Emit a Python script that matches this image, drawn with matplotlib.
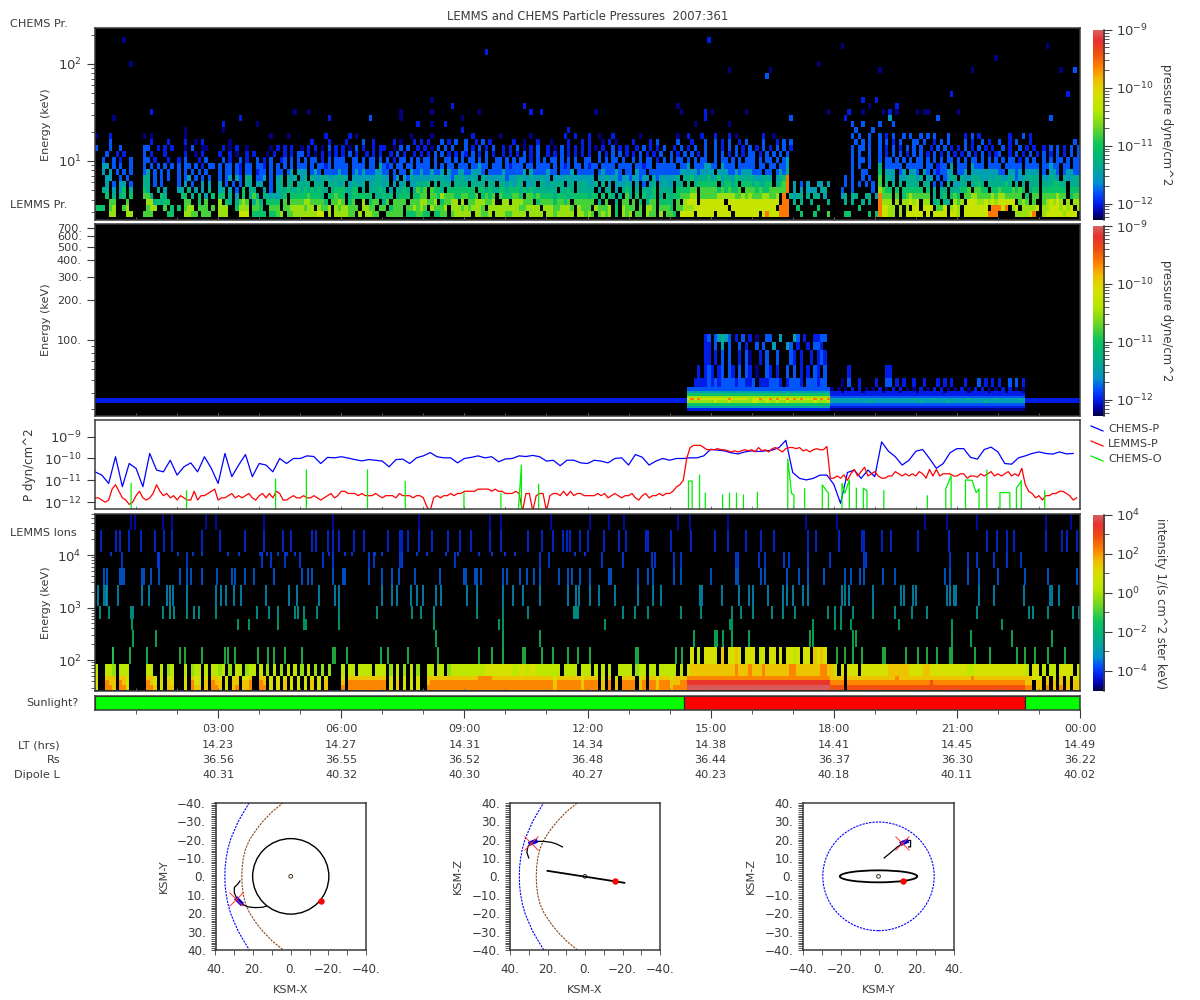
import numpy as np
import matplotlib
matplotlib.use("Agg")
import matplotlib.pyplot as plt
from matplotlib.colors import LinearSegmentedColormap, LogNorm
from matplotlib.lines import Line2D
from matplotlib.patches import Circle, Ellipse

W, H = 1200, 1000
INK = "#3a3a3a"

# colour scale (bottom to top)
cbar_stops = [0, .035, .088, .14, .193, .263, .333, .404, .49, .579, .667, .737, .807, .877, .947, 1]
cbar_colors = ["#000040", "#0000a0", "#0020f0", "#0050ff", "#0090d0", "#00a8a0", "#00b878", "#10c858",
               "#70d820", "#b8e800", "#d8e000", "#f0c000", "#ff8000", "#f05010", "#e83030", "#d86060"]

# log10 pressure for the level characters of the two pressure panels
pressure_levels = {"1": -12.2, "2": -12.0, "3": -11.8, "4": -11.5, "5": -11.3, "6": -11.05,
                   "7": -10.8, "8": -10.5, "9": -10.25, "a": -9.6}
# log10 intensity for the level characters of the ion panel
ion_levels = {"1": -2.0, "2": -1.0, "3": -0.2, "4": 0.3, "5": 0.9, "6": 1.5,
              "7": 2.2, "8": 2.9, "9": 3.4, "a": 3.9}

# CHEMS pressure rows, lowest energy first, one block per hour, one char per 5 min
chems_rows = [
    "....88...88. ..777....66. ..8877.777.. 888...999.66 66.6678.7788 8888899.8.88 8877.8.8877. .77777.66677 66.6677.7888 88.88778.888 778888.8888. 88788888.887 87.7878.6.87 8.77.877.8.7 76.9999.9999 9.9999.99999 99.9a999aaa. ..6...6...7. ...66.....6. 6a9988.8.999 99.9.9999.99 8.9999999aaa .....88889a. .8999998999.",
    "666.78..78.. ...788..7.6. 6.788.777.7. 888..6888.77 6..777.77888 8788.8778.87 88777.8877.7 7.6777.77878 7.87778.8887 878887.88888 8888778888.8 88778887.877 7.87778.6.87 77.7.887.777 6.7788899999 99999.999999 9999999.aaa. .6.....6.... .......6.... .a9988.8.8.9 9.999.779.89 8.9999999.aa a9a.89.88889 .889998989.8",
    "....77...7.. ...8856566.. ..77..6.7... 8.65.5787.57 5.6666.7.777 78877776.778 7.67..8.677. 57.7777.7778 8778.67788.8 .77888778..8 8.888777.677 7767767.7777 77.5.7..5.77 .7.6.577.666 6.7.8999.999 9999.9999999 99999999.aa. 5.5..5....5. ...5.5..5.5. .a888.8.8898 9.88.56.55.8 78.999889898 99999.787.7. .789898.8.88",
    "...6.5.56.6. ..775..65... .66.5.6.4.6. 66.5.4.6.575 .5545456.666 6676665.6676 6.5666666.55 656.5666.667 7.7768777667 7667.6767.76 66776.776766 665666566666 566.6.65.5.7 5.6.6556.5.6 56677788.777 778888877878 77788778.a.5 455.5.55.4.. ..45.55..55. 4a777.7.6787 7777.5.56.67 6.7788777787 8877777.6.77 .7777877.677",
    "..55.4.46.5. ..65..5.4... 45.5.4.4.5.. 45.4.3.6.55. .4.3.5556556 56565655.566 65566.5.5556 5.4.5565.576 7.7665.66666 666.66565566 566656565555 555.5565.555 55.4.55.4.56 5.5.5556.555 5.666677.777 776767667.77 7676677777a. 4.4.444.45.. ..3..3.....3 .8766.6.6666 66.6.5.55.55 5667.7766.66 76667676.566 .6666666.666",
    "...4.3.44.3. ..55.3.3.... 3.4.3..4.4.. 4.3.3.3.54.4 4..3.55.55.5 555.555.5554 5.45545.4555 45.4.45.4455 56.5.555.555 5.5555.55.55 45455.445.55 45555.45.555 445.5.4.4445 4.4.3.45.454 4.55.6.56666 66.56656.666 565566.567a. 4.3.4..44.4. ...3.3.3.3.3 .7.6.5.5.555 5.55.3.3.5.4 455.5565.555 5565.5.5.555 .5556655.555",
    "...44..3.3.. ..55.3.3.3.. 3.34.3.3.3.. 3.34.43.55.3 34.3.45.545. 45.544554455 54.444444455 44.34.435444 444545443555 4454.5444445 344554454454 4.4444544444 44.445444344 344344.43444 445.55645556 456455465555 544554.456a. ............ ...3.3..3.3. .7.554.44555 45.44.3.3455 .54455544545 544553445555 .44554.54455",
    "..4.4.3.3.3. ..34.3.3.3.. 3.3.3.3.3... 3.33.32.33.2 33.3.33.34.4 44.343.33334 33.343433344 33.3.33.4334 334334.43344 334443.33334 333334.43333 433.3334.333 33.3433343.3 3.433.333333 333444443444 4.4443343444 333.33.3435. ............ .....3..33.. .6.444.34.44 3.43.323344. 334.44444444 33.4434.4444 .3.443.34433",
    "..44.3.3..3. ..3.3.3.3.3. 3.33.3.2.33. 3.33.32.33.3 32.3.3.3.3.3 33.3.3323.33 33.3333.33.4 323.33.33.33 33.3.3.33.33 3.33433.333. 32333.33.333 3.3.323.33.3 233.3333.333 3.33233.3333 33.334.33344 33.4333.3333 3.33.33.334. ............ .....3.3..3. .5.33333.333 33.33.233.4. 333.4333.333 3.33333.3333 .33433.33.33",
    "..3..3.2..3. ..33.2...2.. 2.3...2.3... .3.2..3.2..3 .2.3..23.3.3 .3.33.2.3.33 3..33.3.33.3 .3.2.33.3.3. 33.3..33.3.3 .33.3.3..33. 3.3.33.2.3.3 .33.3.3.3..3 3..3.3.33.3. .3.3.33.2.3. 3.33.3.3.33. .3.33.3.3.33 3.3.33.3.34. ............ .....3.33.3. .3.33.3.3.3. 33.3.3.3.33. 3.3.33.3.3.3 .3.33.2.3.3. .3.3.33.3.33",
    "...3..2.2... ..3.2...2... ..2..1.2.... 2..2.1..2.2. ..1.2..2.2.3 3.2.1.2.2.2. 2.3.2..2.2.2 ..2.3.2..2.2 .2.3.3.2.2.3 2.3.2.3.2..2 .2.2.3.2.3.. 2.2.3.2.2.2. 2..3.2.3.3.2 .2.3.2.2.3.. 3.2.3.3.2.3. .3.3.2.3.2.3 3.2.3.3.3.3. ............ .....3.3..3. .3.2.3.3.2.3 .3.2.3.2.3.2 .2.3.2.3.2.2 3..2.3.2.3.2 .3.2.3.2.3.3",
    "3...3..3.... ..33..2.2.2. ..1.3..11... .2.1.2..1... ...1.2.2.2.. 1.2.2.1.3.2. 2.1.3.2..2.2 2..1.3.3..2. 2.1.3.3.3... 3.2.3.2.3..2 .2.3.1.2.3.. 2.1.3.2.2.2. 2.1.2..3.2.2 ..2.3.2.2.3. .2.3.2.3..3. .3.2.3.3.2.3 .2.3.2.3.3.2 ............ .....3.33.3. .3.2.3.2.3.3 .3..2.3.3.2. 2.3.2.3.2.2. .3.2..3.2.2. .2.3.3.2.3.3",
    "....3....... ....2....2.. ..2..1.2.... ...1........ ............ ...2....2... .2....3..2.. ...2.1...2.2 .2...3.2.3.. 3..2.3.2.... ..2..1...2.. .1....2...2. 2...1.2.1... .2....2.3... ..3...2...3. .3.2.3..2.3. ...3...2.3.3 ............ ......3.3.3. .3.3.2.3...3 3.3..2.3.3.. ..3.2..3.2.. 3..2.3...2.. ..........3.",
    "1...2....... ..1.1....... ..1......... ............ ...1....1... .......2.... ..2.1....... ........1... ..1......... ..2.......1. .......1.... .....2..2... 2..1...2.... ...1........ ..1..2...2.. .2...2.1.... ...2..1..... ............ .....3.3..3. .3.2.3..3.3. .3.3.3...3.. ..2.3.2..... ...2...3.2.. ............",
]

# isolated CHEMS cells above the rows
sparse_col = [8, 10, 16, 5, 58, 62, 68, 80, 89, 89, 98, 98, 104, 107, 112, 114, 125, 127, 130, 146, 42, 37, 47, 94, 102, 98,
              26, 37, 138, 107, 179, 218, 278, 263, 211, 185, 197, 229, 256, 282, 286, 196, 250, 284, 170, 224, 228, 226,
              234, 171, 178, 180, 190, 214, 220, 224, 230, 232, 234, 240, 242, 243, 252, 279, 246, 203, 219, 178, 175, 185,
              221, 232, 222, 224, 227, 229, 233]
sparse_row = [29, 25, 17, 16, 17, 17, 16, 16, 16, 17, 19, 17, 18, 16, 17, 27, 18, 17, 17, 17, 16, 15, 15, 15, 15, 15,
              14, 14, 14, 14, 29, 28, 28, 26, 25, 24, 24, 24, 24, 24, 24, 23, 20, 20, 18, 19, 19, 18,
              18, 17, 17, 17, 17, 17, 17, 17, 17, 17, 17, 17, 17, 17, 17, 16, 16, 16, 16, 16, 15, 15,
              15, 16, 14, 15, 14, 15, 15]
sparse_level = [1, 1, 2, 1, 1, 1, 2, 3, 1, 1, 1, 1, 2, 1, 1, 2, 2, 2, 2, 1, 2, 2, 1, 2, 2, 1,
                1, 1, 2, 2, 2, 1, 1, 1, 1, 1, 1, 1, 1, 1, 3, 3, 2, 2, 1, 2, 2, 1,
                2, 1, 2, 1, 1, 1, 2, 1, 1, 2, 1, 1, 1, 1, 1, 3, 3, 3, 2, 2, 1, 1,
                3, 4, 3, 3, 3, 3, 3]

# LEMMS pressure rows (energy edges in lemms_edges), 173 quiet columns, 42 bright, 57 medium, 16 quiet
lemms_bright = [
    "222222222222222222222222222222222222222222", "444444444444444444444444444444444444444444",
    "666666666666666666666666666666666666666666", "888888889888988888899889889889888888898889",
    "9a9a99999999a99999899a99a9a99a9a9a999a9a9a", "888888888888888888888888888888888888888888",
    "666666666666666666666666666666666666666666", "444444444444444444444444444444444444444444",
    "333333333333333333333333333333333333333333", "..222232323333233223.2223332.23332.333233.",
    "...2.232.23.32.3.32.1..32.2..3.3.2.2.32.3.", ".....22.2.3.3..2.31..2.3..3...32.2..2.232.",
    ".....22.3.4.3..3.2..3.3..4...43.2..2.332..", ".....23.34543.2.3.2.1..33..4...43.2..2233.",
]
lemms_medium = [
    "111111111111111111111111111111111111111111111111111111111", "222222222222222222222222222222222222222222222222222222222",
    "333333333333333333333333333333333333333333333333333333333", "444444444445444444444444445444444454444444444544444444444",
    "444444454444444444444444544444544444444454444444544444454", "333333333333333333333333333333333333333333333333333333333",
    "222222222222222222222222222222222222222222222222222222222", "222122222122222122221222212222222122222212222212222122221",
    "1.1.1.2.2.1.1.2.1.2.2.1.1.2.1.2.2.1.1.2.1.2.2.1.1.2.2.1.1", "...1.3..2....2..33.2.2..2..2...2.2.2...2...3.2.2.2..3.3.2",
    ".....2..........22.........................................", ".........................................................",
    ".........................................................", ".........................................................",
]
lemms_quiet_level = [".", ".", ".", "2", "2", ".", ".", ".", ".", ".", ".", ".", ".", "."]
lemms_edges = [29.3, 30.8, 32.1, 33.6, 35.1, 36.6, 38.2, 39.9, 41.4, 44.3, 51.8, 64.9, 84.1, 96.6, 111.0]

# line panel: log10 pressure, CHEMS every 10 min, LEMMS every 5 min
chems_p_log = [-10.61, -10.76, -11.14, -9.92, -11.29, -10.23, -10.45, -11.29, -9.77, -10.53, -10.61, -10.08,
               -10.76, -10.38, -10.2, -10.61, -9.92, -10.45, -11.14, -9.77, -10.83, -10.3, -9.82, -10.83,
               -10.23, -10.3, -10.61, -10.0, -10.23, -10.0, -10.0, -9.88, -9.91, -10.23, -9.95, -9.97,
               -9.92, -9.98, -10.05, -10.11, -10.05, -10.08, -10.12, -10.38, -10.05, -10.03, -10.23, -9.97,
               -9.88, -9.73, -9.92, -9.97, -9.97, -10.2, -10.0, -9.95, -9.88, -9.97, -9.92, -10.15,
               -10.02, -10.0, -9.88, -9.91, -9.86, -9.92, -10.12, -10.08, -10.33, -10.08, -10.08, -10.2,
               -10.23, -10.08, -10.12, -10.2, -10.0, -9.97, -10.3, -9.82, -9.94, -10.3, -10.12, -10.0,
               -10.08, -10.0, -10.0, -9.97, -9.97, -9.88, -9.58, -9.62, -9.65, -9.74, -9.79, -9.7,
               -9.65, -9.68, -9.65, -9.62, -9.5, -9.17, -10.64, -10.91, -10.98, -10.91, -10.76, -10.76,
               -11.18, -12.05, -10.64, -10.53, -10.91, -10.53, -10.83, -9.24, -9.67, -9.92, -10.3, -10.08,
               -9.67, -9.59, -10.0, -10.45, -10.23, -9.74, -9.55, -9.55, -9.95, -10.03, -9.59, -9.48,
               -9.7, -10.23, -10.26, -9.97, -9.88, -9.77, -9.7, -9.77, -9.8, -9.7, -9.79, -9.77]
lemms_p_log = [-11.8, -11.8, -11.9, -12.0, -11.9, -11.4, -11.2, -11.5, -11.8, -11.9, -12.1, -12.0,
               -11.7, -11.5, -11.8, -11.9, -11.8, -11.6, -11.2, -11.5, -11.7, -11.6, -11.8, -11.7,
               -11.9, -11.7, -11.8, -11.9, -11.9, -11.5, -11.9, -11.7, -11.7, -11.6, -11.5, -11.4,
               -11.9, -11.8, -11.8, -11.7, -11.6, -11.8, -11.7, -11.8, -11.7, -11.6, -11.8, -11.9,
               -11.7, -11.6, -11.8, -11.6, -11.8, -11.5, -11.6, -11.9, -11.9, -11.8, -11.7, -11.8,
               -11.8, -11.7, -11.8, -11.8, -11.7, -11.8, -11.9, -11.8, -11.7, -11.6, -11.8, -11.7,
               -11.5, -11.5, -11.6, -11.6, -11.6, -11.7, -11.6, -11.7, -11.7, -11.7, -11.6, -11.7,
               -11.8, -11.7, -11.7, -11.7, -11.8, -11.6, -11.7, -11.7, -11.7, -11.8, -11.7, -11.7,
               -11.8, -12.2, -12.4, -11.8, -11.7, -11.8, -11.7, -11.7, -11.6, -11.7, -11.6, -11.6,
               -11.5, -11.5, -11.5, -11.5, -11.4, -11.4, -11.4, -11.4, -11.5, -11.4, -11.5, -11.5,
               -11.6, -11.6, -11.6, -11.5, -11.6, -12.4, -11.6, -11.6, -12.4, -11.7, -11.6, -11.6,
               -12.4, -11.7, -11.6, -11.6, -11.7, -11.5, -11.7, -11.5, -11.7, -11.6, -11.6, -11.7,
               -11.7, -11.7, -11.7, -11.6, -11.7, -11.6, -11.8, -11.7, -11.6, -11.7, -11.8, -11.7,
               -11.7, -11.6, -11.8, -11.9, -11.7, -11.6, -11.8, -11.7, -11.7, -11.6, -11.7, -11.6,
               -11.6, -11.5, -11.3, -11.2, -11.0, -10.0, -9.5, -9.4, -9.4, -9.4, -9.5, -9.6,
               -9.6, -9.6, -9.55, -9.6, -9.6, -9.65, -9.7, -9.65, -9.7, -9.65, -9.6, -9.65,
               -9.6, -9.7, -9.5, -9.65, -9.6, -9.7, -9.55, -9.5, -9.6, -9.7, -9.55, -9.5,
               -9.5, -9.55, -9.5, -9.65, -9.6, -9.7, -9.6, -9.55, -9.6, -9.6, -9.45, -10.9,
               -10.9, -10.8, -10.9, -10.75, -11.0, -10.7, -10.5, -10.8, -10.6, -10.4, -10.8, -10.7,
               -10.6, -10.8, -10.9, -10.9, -10.8, -10.8, -10.6, -10.7, -10.8, -10.7, -10.8, -10.7,
               -10.8, -10.6, -10.7, -10.9, -10.5, -10.8, -10.5, -10.8, -10.7, -10.7, -10.7, -10.8,
               -10.8, -10.7, -10.7, -10.9, -10.8, -10.8, -10.85, -10.7, -10.8, -10.7, -10.6, -10.8,
               -10.7, -10.8, -10.7, -10.6, -10.8, -10.7, -10.8, -10.45, -11.2, -11.5, -11.6, -11.8,
               -11.7, -11.9, -11.7, -11.7, -11.6, -11.6, -11.5, -11.5, -11.6, -11.7, -11.9, -11.8]
# CHEMS-O spikes: nan breaks the line, -12.5 is below the panel floor
chems_o_hours = [0.88, 0.88, np.nan, 2.23, 2.23, np.nan, 4.40, 4.40, np.nan, 5.15, 5.15, np.nan, 6.64, 6.64, np.nan,
                 7.56, 7.56, np.nan, 8.99, 8.99, np.nan, 9.89, 9.89, np.nan, 10.31, 10.39, 10.39, np.nan, 10.81, 10.81, np.nan,
                 14.46, 14.46, 14.55, 14.55, np.nan, 14.73, 14.73, np.nan, 14.87, 14.87, np.nan, 15.29, 15.29, np.nan,
                 15.46, 15.46, np.nan, 15.63, 15.63, np.nan, 15.80, 15.80, np.nan, 16.14, 16.14, np.nan,
                 16.88, 16.88, 16.97, 17.03, 17.03, np.nan, 17.29, 17.29, np.nan, 17.72, 17.72, 17.87, 17.87, np.nan,
                 18.2, 18.2, 18.27, 18.38, 18.38, np.nan, 18.55, 18.55, np.nan, 18.72, 18.72, 18.81, 18.81, np.nan,
                 19.22, 19.22, np.nan, 20.28, 20.28, np.nan, 20.73, 20.73, 20.86, 20.86, np.nan,
                 21.21, 21.21, 21.37, 21.47, 21.54, 21.54, np.nan, 21.73, 21.73, np.nan, 22.05, 22.05, 22.29, 22.29, np.nan,
                 22.45, 22.45, 22.57, 22.57, np.nan, 23.14, 23.14]
chems_o_log = [-12.5, -11.14, np.nan, -12.5, -11.48, np.nan, -12.5, -10.94, np.nan, -12.5, -10.53, np.nan, -12.5, -10.53, np.nan,
               -12.5, -11.06, np.nan, -12.5, -11.55, np.nan, -12.5, -11.59, np.nan, -12.5, -10.3, -12.5, np.nan, -12.5, -11.18, np.nan,
               -12.5, -11.03, -11.03, -12.5, np.nan, -12.5, -10.76, np.nan, -12.5, -11.59, np.nan, -12.5, -11.67, np.nan,
               -12.5, -11.59, np.nan, -12.5, -11.59, np.nan, -12.5, -11.67, np.nan, -12.5, -11.55, np.nan,
               -12.5, -10.03, -11.59, -11.67, -12.5, np.nan, -12.5, -11.39, np.nan, -12.5, -11.21, -11.59, -12.5, np.nan,
               -12.5, -11.14, -11.59, -10.98, -12.5, np.nan, -12.5, -11.36, np.nan, -12.5, -11.36, -11.48, -12.5, np.nan,
               -12.5, -11.48, np.nan, -12.5, -11.71, np.nan, -12.5, -11.39, -10.79, -12.5, np.nan,
               -12.5, -10.98, -11.0, -11.56, -11.39, -12.5, np.nan, -12.5, -10.53, np.nan, -12.5, -11.56, -11.56, -12.5, np.nan,
               -12.5, -11.36, -11.02, -12.5, np.nan, -12.5, -11.48]

# LEMMS ions: dense low-energy rows, one block per hour
ion_rows = [
    "5..776.775.. ...776.5.66. ..5.766.6.77 6.5.67.667.. 77.5.5.6.5.5 .5.6.5.6.... 7.7777777777 7.5.6.5.5.5. .77777777777 777777777777 777777777777 776777777767 777.6.7.6.77 77.67.776777 67777aaaaaaa aaaaaaaaaaaa aaaaaaaaaaaa aaaaaaaaaaa8 888.88888888 888888888888 888888888888 888888888888 8888888877.6 6.7.6.7.6.66",
    "5..766.765.. ...765.5.65. ..5.755.6.76 6.5.66.667.. 76.5.5.6.5.5 .5.6.5.6.... 6.7777777777 7.5.6.5.5.5. .67777777777 777777777777 777777777777 776777777767 777.6.7.6.77 77.67.776777 666779999999 999999999999 999999999999 999999999997 777.77777777 777777777777 777787777777 777777777777 7777777766.6 6.6.6.6.6.66",
    "5..666.665.. ...665.5.55. ..5.655.5.66 5.5.56.556.. 66.5.5.5.5.5 .5.5.5.5.... 5.6666666666 6.5.5.5.5.5. .66666666666 666677776666 666666666666 665666666656 666.5.6.5.66 66.56.665666 566667777777 777777777777 777777777777 777777777776 666.66666666 666666766666 666666666666 666676666666 666666666655 5.6.5.6.5.55",
    "4..443.444.. ...44..4.34. ..4.344.4.44 34.3.44.344. 4.3.4.3.4.4. 3.4.3.3.3... 4.44.4444.44 4.3.4.3.4.3. .44.44.34444 444444555555 554455455444 4444.4444.44 4.4.4.4..444 4.344.44.444 44.4.5666666 666666676667 666766666667 766666667766 4.5.555.5555 555566666655 556655555555 555445555555 555555554.55 .4.44.5555.5",
    "............ ............ ............ ............ ............ ............ ............ ............ ............ ............ ............ ............ ............ ............ ......5.4.55 55.6.5565.55 5.45.55.5.55 45.55.6565.. ............ ............ ............ ............ ............ ............",
]
ion_row_edges = [26.8, 33.4, 41.6, 49.6, 83.9, 177.0]

# LEMMS ions: upper channels, minutes of day of each lit column
ion_c_minutes = [26, 27, 51, 76, 124, 131, 157, 190, 195, 204, 239, 253, 261, 278, 303, 348, 351, 368, 418, 429, 457, 502, 561, 580, 597, 625, 628, 653, 670, 692, 706, 723,
                 791, 794, 849, 858, 1085, 1096, 1108, 1122, 1152, 1155, 1186, 1203, 1217, 1231, 1250, 1253, 1287, 1309, 1348, 1360, 1374, 1393, 1418]
ion_d_minutes = [55, 89, 499, 597, 650, 875, 906, 909, 918, 931, 956, 1045, 1049, 1108, 1112, 1253, 1281, 1340, 1399]
ion_e_minutes = [54, 209, 225, 267, 306, 308, 356, 496, 591, 597, 746, 928, 931, 1049, 1082, 1091, 1105, 1175, 1253, 1326]
ion_f_minutes = [7, 21, 53, 55, 100, 110, 115, 135, 145, 152, 177, 237, 255, 267, 293, 297, 306, 325, 356, 412, 464, 477, 496, 558, 597, 633, 700, 703, 706,
                 772, 790, 808, 857, 886, 931, 945, 962, 990, 1006, 1024, 1072, 1082, 1091, 1108, 1138, 1169, 1194, 1217, 1290, 1365, 1371, 1393, 1430, 1439]
ion_g_minutes = [5, 13, 16, 18, 34, 69, 79, 105, 110, 114, 135, 177, 184, 192, 203, 214, 250, 283, 295, 328, 351, 356, 419, 434, 441, 462, 471, 479, 499, 506, 544, 558, 597, 611, 625, 650, 692, 703, 707, 723, 737,
                 760, 794, 816, 828, 885, 888, 916, 942, 956, 962, 984, 1006, 1011, 1021, 1035, 1043, 1092, 1096, 1102, 1137, 1178, 1183, 1196, 1200, 1245, 1250, 1256, 1259, 1292, 1315, 1358, 1396, 1399, 1409]
ion_h_minutes = [13, 17, 37, 40, 43, 68, 71, 82, 93, 124, 135, 141, 157, 179, 201, 205, 219, 233, 261, 303, 311, 317, 348, 362, 365, 401, 420, 434, 445, 468, 505, 539, 542, 555, 558, 565, 597, 603, 622, 631, 642, 650, 678, 692, 698, 709, 723,
                 752, 755, 794, 808, 816, 847, 856, 900, 937, 940, 973, 979, 1012, 1029, 1043, 1066, 1096, 1105, 1119, 1124, 1152, 1169, 1242, 1250, 1276, 1292, 1320, 1360, 1393, 1435]
ion_i_minutes = [40, 92, 94, 135, 244, 258, 278, 300, 334, 348, 401, 408, 446, 449, 527, 664, 650,
                 741, 772, 814, 819, 847, 856, 937, 940, 970, 979, 1007, 1015, 1043, 1074, 1124, 1127, 1250, 1276, 1290, 1315, 1334, 1354]
ion_i2_minutes = [23, 121, 143, 157, 195, 211, 241, 252, 267, 281, 292, 342, 365, 376, 409, 420, 471, 485, 513, 530, 561, 580, 600, 614, 701, 717]
ion_j_minutes = [9, 31, 37, 50, 67, 87, 101, 113, 157, 183, 219, 247, 275, 286, 317, 323, 340, 348, 357, 379, 393, 429, 446, 449, 457, 474, 493, 516, 533, 549, 577, 594, 633, 653, 670, 684, 690, 695, 709, 720,
                 744, 766, 777, 805, 808, 842, 872, 906, 926, 951, 973, 993, 1043, 1054, 1088, 1122, 1124, 1150, 1164, 1203, 1248, 1304, 1318, 1334, 1343, 1390, 1413, 1421, 1435]
ion_k_minutes = [53, 59, 99, 113, 162, 177, 247, 348, 474, 578, 594, 667, 723, 752, 774, 853, 870, 926, 1040, 1085, 1214, 1245, 1290, 1390, 1427]
ion_channels = [(83.9, 177, -1.2, ion_c_minutes), (177, 373, -1.5, ion_d_minutes), (373, 604, -2.0, ion_e_minutes),
                (604, 1085, -2.6, ion_f_minutes), (1085, 2740, -3.1, ion_g_minutes), (2740, 5560, -3.6, ion_h_minutes),
                (5560, 11600, -3.9, ion_i_minutes), (9730, 11600, -3.9, ion_i2_minutes),
                (11600, 29900, -4.1, ion_j_minutes), (29900, 61700, -4.5, ion_k_minutes)]

# sunlight bar edges (hours) and colours
sun_edges = [0.0, 14.34, 22.66, 24.0]
sun_colors = ["#00ff00", "#ff0000", "#00ff00"]

# time table under the bar
time_labels = ["03:00", "06:00", "09:00", "12:00", "15:00", "18:00", "21:00", "00:00"]
lt_values = ["14.23", "14.27", "14.31", "14.34", "14.38", "14.41", "14.45", "14.49"]
rs_values = ["36.56", "36.55", "36.52", "36.48", "36.44", "36.37", "36.30", "36.22"]
l_values = ["40.31", "40.32", "40.30", "40.27", "40.23", "40.18", "40.11", "40.02"]

# boundary curves in KSM
bound_off = [-40, -35, -30, -25, -20, -15, -10, -5, 0, 5, 10, 15, 20, 25, 30, 35, 40]
mp_x = [22, 25, 27.8, 30, 32, 33.4, 34.3, 34.9, 35, 34.9, 34.3, 33.4, 32, 30, 27.8, 25, 22]
bs_x = [4, 10, 14.7, 18.6, 21.8, 24, 25.2, 25.8, 26, 25.8, 25.2, 24, 21.8, 18.6, 14.7, 10, 4]

traj_xy_x = [13, 15, 19, 23, 26, 28.5, 30, 30, 28, 27]
traj_xy_y = [16.2, 16.8, 17, 16.5, 15, 12.5, 9, 6, 4, 2.5]
traj_xz_x = [30, 31, 30.5, 29, 26, 22, 18, 15, 12]
traj_xz_z = [10, 13, 16, 18, 19, 19, 18.5, 17.5, 16]
traj_yz_y = [3, 6, 10, 13, 15, 17, 17, 16]
traj_yz_z = [10, 12.5, 16, 18, 19.5, 19.5, 16, 16]
orbit_xz_x = [20, -21]
orbit_xz_z = [3, -3.5]
now_xy = (-16, 13.5)
now_xz = (-16, -2.5)
now_yz = (13, -2.5)
start_xy = (29, 12.5)
start_xz = (29, 18)
start_yz = (12.5, 18)
mark_xy = [[28.5, 26.5], [12.5, 14.5]]
mark_xz = [[29, 26.5], [18, 19]]
mark_yz = [[12.5, 14.8], [18, 19]]

plt.rcParams["font.family"] = "DejaVu Sans"
plt.rcParams["font.size"] = 8.1
plt.rcParams["text.color"] = INK
plt.rcParams["axes.labelcolor"] = INK
plt.rcParams["xtick.color"] = INK
plt.rcParams["ytick.color"] = INK
plt.rcParams["axes.edgecolor"] = INK
plt.rcParams["axes.linewidth"] = 1.1
plt.rcParams["mathtext.default"] = "regular"

cmap = LinearSegmentedColormap.from_list("cassini", list(zip(cbar_stops, cbar_colors)), N=256)
cmap.set_bad("black")
pressure_norm = LogNorm(10.0 ** -12.28, 1e-9)
ion_norm = LogNorm(10.0 ** -5.03, 1e4)

fig = plt.figure(figsize=(W / 100, H / 100), dpi=100)


def px_axes(left, top, right, bottom):
    return fig.add_axes([left / W, 1 - bottom / H, (right - left) / W, (bottom - top) / H])


def px_text(x, y, s, **kw):
    kw.setdefault("va", "center")
    return fig.text(x / W, 1 - y / H, s, **kw)


def decode(blocks, levels):
    # blocks of 12 chars per hour -> one row of log10 values
    chars = "".join(b.ljust(12, ".")[:12] for b in blocks.split())
    return [levels.get(c, np.nan) for c in chars]


def hour_ticks(ax):
    ax.set_xlim(0, 24)
    ax.set_xticks(range(3, 24, 3))
    ax.set_xticks(range(1, 24), minor=True)
    ax.tick_params(axis="x", which="both", direction="in", length=2.5, color="#777777", labelbottom=False)


def log_mesh(ax, edges, rows, norm):
    grid = np.array(rows, dtype=float)
    t = np.arange(grid.shape[1] + 1) / grid.shape[1] * 24
    ax.pcolormesh(t, edges, np.ma.masked_invalid(10.0 ** grid), cmap=cmap, norm=norm, shading="flat")


def colorbar(top, bottom, lo, hi, ticks, label, label_x):
    ax = px_axes(1092.5, top, 1104, bottom)
    ax.imshow(np.linspace(0, 1, 256)[:, None], cmap=cmap, aspect="auto", origin="lower", extent=[0, 1, lo, hi])
    for s in ("left", "top", "bottom"):
        ax.spines[s].set_visible(False)
    ax.set_xticks([])
    ax.yaxis.tick_right()
    ax.set_yticks(ticks)
    ax.set_yticklabels(["$10^{%d}$" % t for t in ticks], fontsize=9.5)
    minors = [d + np.log10(k) for d in range(int(lo) - 2, int(hi) + 1) for k in range(2, 10)]
    if ticks[1] - ticks[0] > 1:
        minors = [t + 1 for t in ticks[:-1]]
    ax.set_yticks([m for m in minors if lo < m < hi], minor=True)
    ax.tick_params(axis="y", which="major", length=6, pad=3)
    ax.tick_params(axis="y", which="minor", length=3.5)
    ax.set_ylim(lo, hi)
    px_text(label_x, (top + bottom) / 2, label, rotation=270, ha="center", fontsize=8.4)


# CHEMS spectrogram
energy_edges = 2.63 * 10 ** (0.0619 * np.arange(33))
chems_grid = np.full((32, 288), np.nan)
for i, row in enumerate(chems_rows):
    chems_grid[i] = decode(row, pressure_levels)
for c, r, lev in zip(sparse_col, sparse_row, sparse_level):
    chems_grid[r, c] = pressure_levels[str(lev)]
ax1 = px_axes(95, 28, 1080, 220)
ax1.set_facecolor("black")
log_mesh(ax1, energy_edges, chems_grid, pressure_norm)
ax1.set_yscale("log")
ax1.set_ylim(2.46, 235)
ax1.set_yticks([10, 100])
ax1.set_yticklabels(["$10^{1}$", "$10^{2}$"], fontsize=9.5)
ax1.tick_params(axis="y", which="major", length=6)
ax1.tick_params(axis="y", which="minor", length=3)
ax1.yaxis.set_minor_formatter(plt.NullFormatter())
hour_ticks(ax1)
px_text(46, 125, "Energy (keV)", rotation=90, ha="center")
px_text(10, 24, "CHEMS Pr.")
px_text(10, 205, "LEMMS Pr.")
px_text(588, 16, "LEMMS and CHEMS Particle Pressures  2007:361", ha="center", fontsize=8.4)

# LEMMS spectrogram
lemms_grid = []
for i, lev in enumerate(lemms_quiet_level):
    chars = lev * 173 + lemms_bright[i][:42].ljust(42, ".") + lemms_medium[i][:57].ljust(57, ".") + lev * 16
    lemms_grid.append([pressure_levels.get(c, np.nan) for c in chars])
ax2 = px_axes(95, 224, 1080, 416)
ax2.set_facecolor("black")
log_mesh(ax2, lemms_edges, lemms_grid, pressure_norm)
ax2.set_yscale("log")
ax2.set_ylim(26.8, 745)
ax2.set_yticks([100, 200, 300, 400, 500, 600, 700])
ax2.set_yticklabels(["100.", "200.", "300.", "400.", "500.", "600.", "700."])
ax2.set_yticks([30, 40, 50, 60, 70, 80, 90], minor=True)
ax2.yaxis.set_minor_formatter(plt.NullFormatter())
ax2.tick_params(axis="y", which="major", length=6)
ax2.tick_params(axis="y", which="minor", length=3)
hour_ticks(ax2)
px_text(46, 320, "Energy (keV)", rotation=90, ha="center")

# pressure lines
ax3 = px_axes(95, 420, 1080, 509)
ax3.plot(np.arange(len(chems_p_log)) / 6, 10.0 ** np.array(chems_p_log), color="#0000ff", lw=0.9)
ax3.plot(np.arange(len(lemms_p_log)) / 12, 10.0 ** np.array(lemms_p_log), color="#ff0000", lw=0.9)
ax3.plot(chems_o_hours, 10.0 ** np.array(chems_o_log), color="#00ee00", lw=0.9)
ax3.set_yscale("log")
ax3.set_ylim(10.0 ** -12.31, 10.0 ** -8.24)
ax3.set_yticks([1e-12, 1e-11, 1e-10, 1e-9])
ax3.set_yticklabels(["$10^{-12}$", "$10^{-11}$", "$10^{-10}$", "$10^{-9}$"], fontsize=9.5)
ax3.tick_params(axis="y", which="major", length=6)
ax3.tick_params(axis="y", which="minor", length=3)
ax3.yaxis.set_minor_formatter(plt.NullFormatter())
hour_ticks(ax3)
px_text(30, 465, "P dyn/cm^2", rotation=90, ha="center", fontsize=8.6)
for y, name, col in zip([429, 444, 459], ["CHEMS-P", "LEMMS-P", "CHEMS-O"], ["#0000ff", "#ff0000", "#00ee00"]):
    fig.add_artist(Line2D([1091 / W, 1103 / W], [1 - (y - 3) / H, 1 - (y + 2) / H], color=col, lw=0.9))
    px_text(1108, y, name)

# ion spectrogram
ax4 = px_axes(95, 513.5, 1080, 691)
ax4.set_facecolor("black")
log_mesh(ax4, ion_row_edges, [decode(r, ion_levels) for r in ion_rows], ion_norm)
for lo, hi, val, minutes in ion_channels:
    ax4.vlines(np.array(minutes) / 60, lo, hi, colors=[cmap(ion_norm(10.0 ** val))], lw=1.15)
ax4.set_yscale("log")
ax4.set_ylim(25.8, 61700)
ax4.set_yticks([100, 1000, 10000])
ax4.set_yticklabels(["$10^{2}$", "$10^{3}$", "$10^{4}$"], fontsize=9.5)
ax4.tick_params(axis="y", which="major", length=6)
ax4.tick_params(axis="y", which="minor", length=3)
ax4.yaxis.set_minor_formatter(plt.NullFormatter())
hour_ticks(ax4)
px_text(46, 603, "Energy (keV)", rotation=90, ha="center")
px_text(10, 533, "LEMMS Ions")

# sunlight bar and time table
ax5 = px_axes(95, 695.5, 1080, 710)
ax5.barh(0, np.diff(sun_edges), left=sun_edges[:-1], height=1, color=sun_colors, edgecolor="#222222", lw=0.8)
ax5.set_ylim(-0.5, 0.5)
ax5.set_xlim(0, 24)
ax5.set_yticks([])
ax5.set_xticks(range(3, 25, 3))
ax5.set_xticks(range(1, 24), minor=True)
ax5.tick_params(axis="x", which="major", length=6, labelbottom=False)
ax5.tick_params(axis="x", which="minor", length=3)
px_text(79, 703, "Sunlight?", ha="right")
for hour, a, b, c, d in zip(range(3, 25, 3), time_labels, lt_values, rs_values, l_values):
    x = 95 + hour * 985 / 24
    for y, s in zip([729, 745, 760, 775], [a, b, c, d]):
        px_text(x, y, s, ha="center")
for y, s in zip([745, 760, 775], ["LT (hrs)", "Rs", "Dipole L"]):
    px_text(60, y, s, ha="right")

colorbar(30, 220, -12.28, -9, [-12, -11, -10, -9], "pressure dyne/cm^2", 1167)
colorbar(226, 416, -12.28, -9, [-12, -11, -10, -9], "pressure dyne/cm^2", 1167)
colorbar(515, 691, -5.03, 4, [-4, -2, 0, 2, 4], "intensity 1/(s cm^2 ster keV)", 1161)


def orbit_axes(left, right, xname, yname, xlim, ylim, xt, yt):
    ax = px_axes(left, 802.7, right, 950)
    ax.set_xlim(*xlim)
    ax.set_ylim(*ylim)
    ax.set_xticks(range(-40, 41, 20))
    ax.set_xticklabels([f"{v}.".replace("-", "\u2212") for v in xt], fontsize=8.6)
    ax.set_xticks(range(-40, 41, 10), minor=True)
    ax.set_yticks(range(-40, 41, 10))
    ax.set_yticklabels([f"{v}.".replace("-", "\u2212") for v in yt], fontsize=8.6)
    ax.set_yticks(range(-40, 41, 1), minor=True)
    ax.tick_params(axis="both", which="both", length=3.5, width=0.6)
    ax.tick_params(axis="x", which="both", pad=6)
    ax.set_xlabel(xname, labelpad=6)
    ax.set_ylabel(yname, labelpad=6)
    return ax


xy = orbit_axes(215.5, 366, "KSM-X", "KSM-Y", (40, -40), (40, -40), [-40, -20, 0, 20, 40], [-40, -30, -20, -10, 0, 10, 20, 30, 40])
xz = orbit_axes(510, 660, "KSM-X", "KSM-Z", (40, -40), (-40, 40), [-40, -20, 0, 20, 40], [-40, -30, -20, -10, 0, 10, 20, 30, 40])
yz = orbit_axes(803, 954, "KSM-Y", "KSM-Z", (-40, 40), (-40, 40), [-40, -20, 0, 20, 40], [-40, -30, -20, -10, 0, 10, 20, 30, 40])

for ax in (xy, xz):
    ax.plot(mp_x, bound_off, color="#0000ff", lw=0.8, ls=(0, (2, 1)))
    ax.plot(bs_x, bound_off, color="#8b4513", lw=0.8, ls=(0, (2, 1)))
yz.add_patch(Circle((0, 0), 29.5, fill=False, ec="#0000ff", lw=0.8, ls=(0, (2, 1))))

xy.add_patch(Ellipse((0, 0), 40.5, 41, fill=False, ec="black", lw=1.0))
xy.plot(traj_xy_x, traj_xy_y, color="black", lw=0.9)
xz.plot(orbit_xz_x, orbit_xz_z, color="black", lw=1.3)
xz.plot(traj_xz_x, traj_xz_z, color="black", lw=0.9)
yz.add_patch(Ellipse((0, 0), 41, 6.5, fill=False, ec="black", lw=1.3))
yz.plot(traj_yz_y, traj_yz_z, color="black", lw=0.9)

for ax, now, start, mark in ((xy, now_xy, start_xy, mark_xy), (xz, now_xz, start_xz, mark_xz), (yz, now_yz, start_yz, mark_yz)):
    ax.add_patch(Circle((0, 0), 1.0, fill=False, ec="#443322", lw=0.7))
    ax.plot(mark[0], mark[1], color="#0000dd", lw=3.2)
    ax.plot(*start, marker="x", color="#ff3030", ms=10, mew=0.7)
    ax.plot(*now, marker="o", color="#ff0000", ms=3.6)

fig.savefig("out.png", dpi=100, facecolor="white")
